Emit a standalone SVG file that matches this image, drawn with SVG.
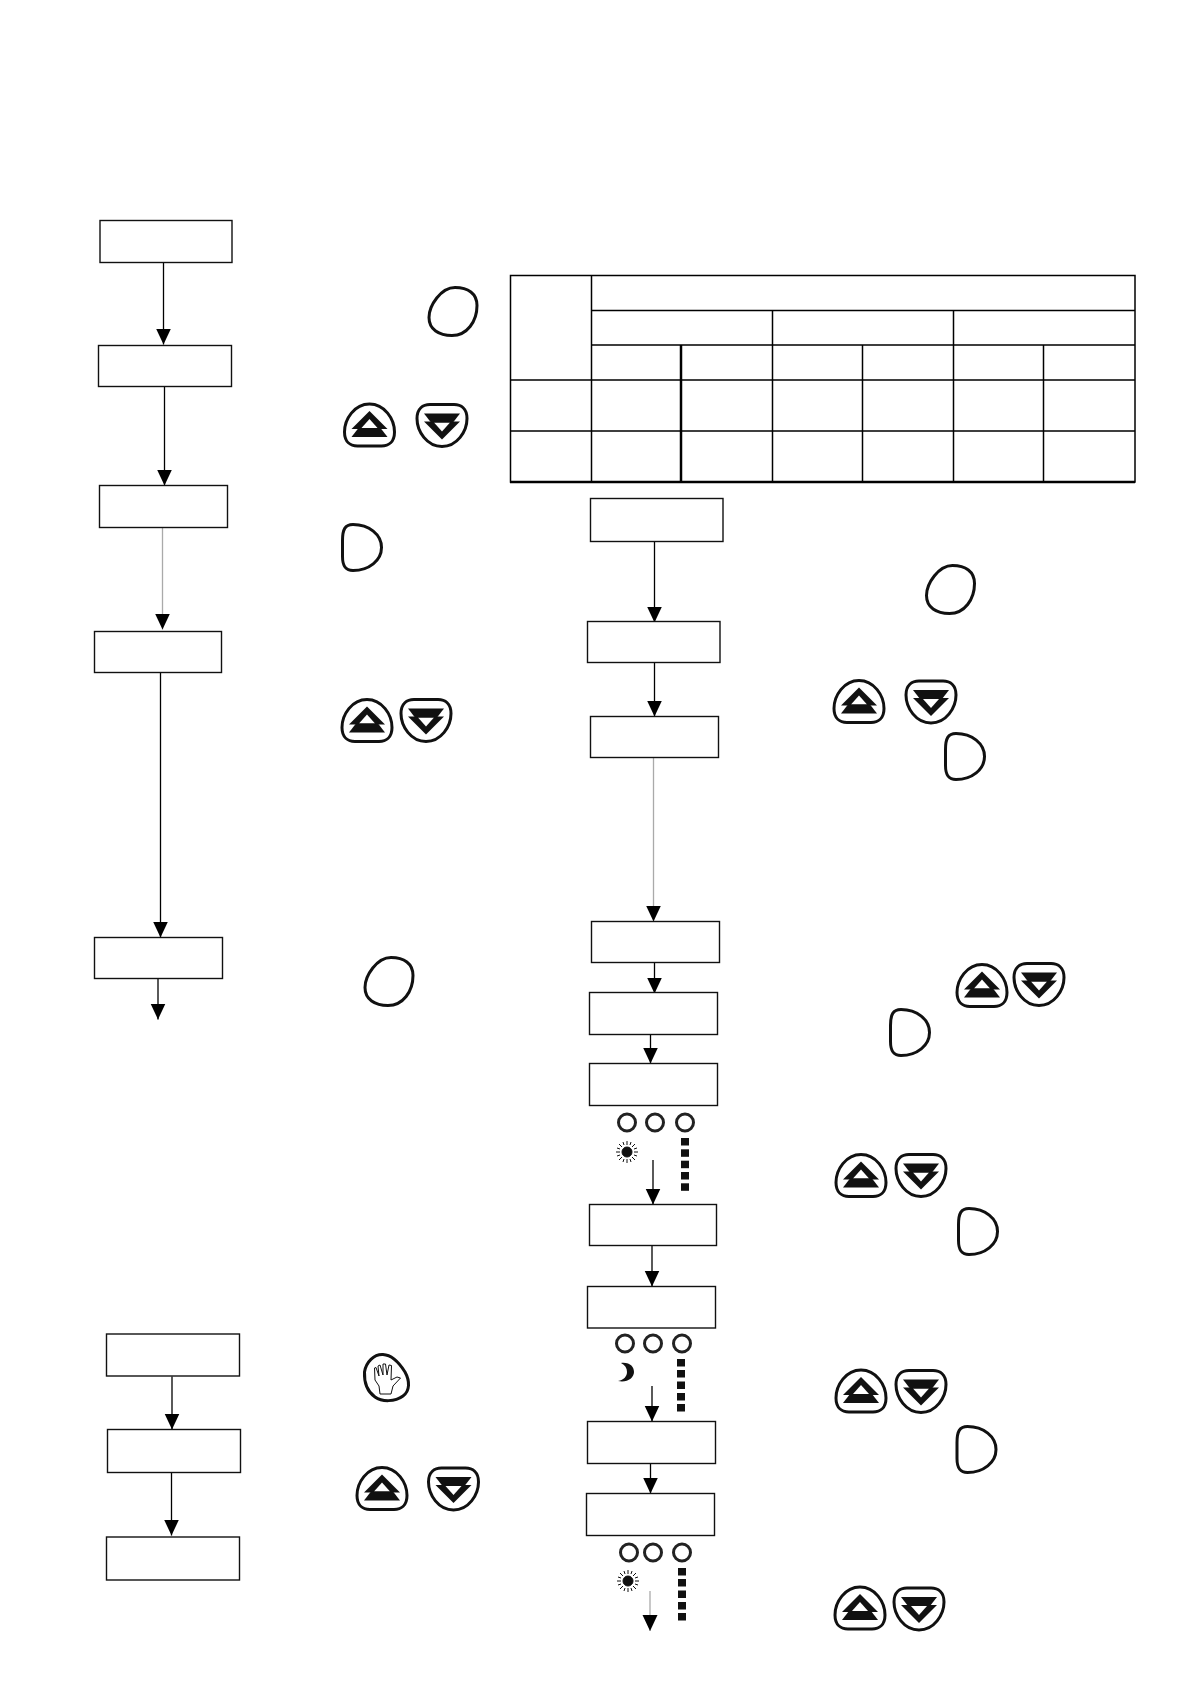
<svg xmlns="http://www.w3.org/2000/svg" width="1190" height="1684" viewBox="0 0 1190 1684">
<style>
.box{fill:#fff;stroke:#111;stroke-width:1.4}
.c{stroke:#000;stroke-width:1.3;fill:none;marker-end:url(#ah)}
.g{stroke:#aaa}
.t{stroke:#000;stroke-width:1.5;fill:none}
.k{fill:#fff;stroke:#111;stroke-width:3}
.led{fill:#fff;stroke:#222;stroke-width:3}
.sq{fill:#111}
</style>
<defs>
<marker id="ah" markerUnits="userSpaceOnUse" markerWidth="17" markerHeight="17" refX="16" refY="8.500" orient="auto"><path d="M0,1L16,8.500L0,16Z" fill="#000"/></marker>
<path id="round" class="k" d="M2,-24C15,-24 24,-18 24,-6C24,10 14,24 -1,24C-14,24 -24,18 -24,6C-24,-6 -12,-24 2,-24Z"/>
<path id="d" class="k" d="M-9,-23C7,-23 19.500,-13 19.500,0C19.500,13 7,23 -9,23C-17,23 -19.500,18 -19.500,9L-19.500,-7C-19.500,-18 -17,-23 -9,-23Z"/>
<g id="up">
<path class="k" d="M0,-21C15,-21 25,-6 25,7C25,17 19,21 12,21L-12,21C-19,21 -25,17 -25,7C-25,-6 -15,-21 0,-21Z"/>
<path fill="#111" d="M0,-14L18,4L-18,4Z"/>
<path fill="#fff" d="M0,-6L8,3L-8,3Z"/>
<path fill="#111" d="M-11,3L11,3L18,12L-18,12Z"/>
</g>
<g id="sun" stroke="#111" stroke-width="1">
<circle r="5" fill="#111"/>
<path d="M0,-11V-7M0,11V7M-11,0H-7M11,0H7M-8,-8L-5,-5M8,8L5,5M-8,8L-5,5M8,-8L5,-5M-4,-10L-3,-7M4,10L3,7M4,-10L3,-7M-4,10L-3,7M-10,-4L-7,-3M10,4L7,3M10,-4L7,-3M-10,4L-7,3"/>
</g>
</defs>

<g id="table">
<rect class="t" x="510.500" y="275.500" width="624.500" height="206.500"/>
<path class="t" d="M591.500,275.500V482M591.500,310.500H1135M591.500,345H1135M510.500,380H1135M510.500,431H1135M772.500,310.500V482M953.500,310.500V482M862.500,345V482M1043.500,345V482"/>
<path d="M681,345V482" stroke="#000" stroke-width="2.500"/>
<path d="M510,482H1135" stroke="#000" stroke-width="2.500"/>
</g>

<g id="connectors">
<path class="c" d="M163.500,262.500V344.500"/>
<path class="c" d="M164.500,386.500V485.500"/>
<path class="c g" d="M162.500,527.500V629.500"/>
<path class="c" d="M160.500,672.500V937.500"/>
<path class="c" d="M158,978.500V1019.500"/>
<path class="c" d="M654.500,541.500V622.500"/>
<path class="c" d="M654.500,662.500V716.500"/>
<path class="c g" d="M653.500,757.500V921.500"/>
<path class="c" d="M654.500,962.500V993.500"/>
<path class="c" d="M650.500,1034.500V1063.500"/>
<path class="c" d="M653,1160V1204.500"/>
<path class="c" d="M652,1245.500V1286.500"/>
<path class="c" d="M652,1386V1421.500"/>
<path class="c" d="M650.500,1463.500V1493.500"/>
<path class="c g" d="M650,1591V1631"/>
<path class="c" d="M172,1376.500V1429.500"/>
<path class="c" d="M171.500,1472.500V1535.500"/>
</g>

<g id="n1"><rect class="box" x="100" y="220.500" width="132" height="42"/></g>
<g id="n2"><rect class="box" x="98.500" y="345.500" width="133" height="41"/></g>
<g id="n3"><rect class="box" x="99.500" y="485.500" width="128" height="42"/></g>
<g id="n4"><rect class="box" x="94.500" y="631.500" width="127" height="41"/></g>
<g id="n5"><rect class="box" x="94.500" y="937.500" width="128" height="41"/></g>
<g id="n6"><rect class="box" x="106.500" y="1334" width="133" height="42"/></g>
<g id="n7"><rect class="box" x="107.500" y="1429.500" width="133" height="43"/></g>
<g id="n8"><rect class="box" x="106.500" y="1537" width="133" height="43"/></g>
<g id="m1"><rect class="box" x="590.500" y="498.500" width="132.500" height="43"/></g>
<g id="m2"><rect class="box" x="587.500" y="621.500" width="132.500" height="41"/></g>
<g id="m3"><rect class="box" x="590.500" y="716.500" width="128" height="41"/></g>
<g id="m4"><rect class="box" x="591.500" y="921.500" width="128" height="41"/></g>
<g id="m5"><rect class="box" x="589.500" y="992.500" width="128" height="42"/></g>
<g id="m6"><rect class="box" x="589.500" y="1063.500" width="128" height="42"/></g>
<g id="m7"><rect class="box" x="589.500" y="1204.500" width="127" height="41"/></g>
<g id="m8"><rect class="box" x="587.500" y="1286.500" width="128" height="41.500"/></g>
<g id="m9"><rect class="box" x="587.500" y="1421.500" width="128" height="42"/></g>
<g id="m10"><rect class="box" x="586.500" y="1493.500" width="128" height="42"/></g>

<g id="leds1">
<circle class="led" cx="627" cy="1122.500" r="8.500"/><circle class="led" cx="655" cy="1122.500" r="8.500"/><circle class="led" cx="685" cy="1122.500" r="8.500"/>
<use href="#sun" x="627" y="1152"/>
<rect class="sq" x="681" y="1138" width="8" height="7.500"/><rect class="sq" x="681" y="1149.300" width="8" height="7.500"/><rect class="sq" x="681" y="1160.700" width="8" height="7.500"/><rect class="sq" x="681" y="1172" width="8" height="7.500"/><rect class="sq" x="681" y="1183.300" width="8" height="7.500"/>
</g>
<g id="leds2">
<circle class="led" cx="625" cy="1343.500" r="8.500"/><circle class="led" cx="653" cy="1343.500" r="8.500"/><circle class="led" cx="682" cy="1343.500" r="8.500"/>
<path fill="#111" d="M621,1363C630,1362 634,1367 634,1372C634,1378 627,1383 618,1381C624,1380 627,1376 627,1372C627,1368 625,1365 621,1363Z"/>
<rect class="sq" x="677" y="1359" width="8" height="7.500"/><rect class="sq" x="677" y="1370" width="8" height="7.500"/><rect class="sq" x="677" y="1381.500" width="8" height="7.500"/><rect class="sq" x="677" y="1393" width="8" height="7.500"/><rect class="sq" x="677" y="1404" width="8" height="7.500"/>
</g>
<g id="leds3">
<circle class="led" cx="629" cy="1552.500" r="8.500"/><circle class="led" cx="653" cy="1552.500" r="8.500"/><circle class="led" cx="682" cy="1552.500" r="8.500"/>
<use href="#sun" x="628" y="1581"/>
<rect class="sq" x="678" y="1568" width="8" height="7.500"/><rect class="sq" x="678" y="1579" width="8" height="7.500"/><rect class="sq" x="678" y="1590.500" width="8" height="7.500"/><rect class="sq" x="678" y="1602" width="8" height="7.500"/><rect class="sq" x="678" y="1613" width="8" height="7.500"/>
</g>

<g id="b-round1"><use href="#round" x="453" y="311.500"/></g>
<g id="b-round2"><use href="#round" x="950.500" y="589.500"/></g>
<g id="b-round3"><use href="#round" x="389" y="981.500"/></g>
<g id="b-d1"><use href="#d" x="362" y="547.500"/></g>
<g id="b-d2"><use href="#d" x="965" y="756.500"/></g>
<g id="b-d3"><use href="#d" x="910" y="1032.500"/></g>
<g id="b-d4"><use href="#d" x="978" y="1231.500"/></g>
<g id="b-d5"><use href="#d" x="976.500" y="1449.500"/></g>

<g id="b-ud1"><use href="#up" transform="translate(369.500,425)"/><use href="#up" transform="translate(442,425.500) scale(1,-1)"/></g>
<g id="b-ud2"><use href="#up" transform="translate(367,720.500)"/><use href="#up" transform="translate(426,720.500) scale(1,-1)"/></g>
<g id="b-ud3"><use href="#up" transform="translate(859,701.500)"/><use href="#up" transform="translate(931,702) scale(1,-1)"/></g>
<g id="b-ud4"><use href="#up" transform="translate(982,985.500)"/><use href="#up" transform="translate(1039,984.500) scale(1,-1)"/></g>
<g id="b-ud5"><use href="#up" transform="translate(861,1175.500)"/><use href="#up" transform="translate(921,1175.500) scale(1,-1)"/></g>
<g id="b-ud6"><use href="#up" transform="translate(861,1391)"/><use href="#up" transform="translate(921,1391.500) scale(1,-1)"/></g>
<g id="b-ud7"><use href="#up" transform="translate(860,1608)"/><use href="#up" transform="translate(919,1609) scale(1,-1)"/></g>
<g id="b-ud8"><use href="#up" transform="translate(382,1488.500)"/><use href="#up" transform="translate(453.500,1489) scale(1,-1)"/></g>

<g id="b-hand" transform="translate(1,0)">
<path class="k" d="M363.500,1372C365,1362 373,1354 382,1354.500C392,1355 399,1364 404,1372C409,1381 409,1391 402,1396C394,1402 381,1402 374,1397C367,1392 363,1383 363.500,1372Z"/>
<path fill="#fff" stroke="#111" stroke-width="1" d="M379,1394L378,1386L374,1380L373.500,1368L375,1367.500L378,1376L377,1366L379,1365L382,1375L382,1364L384.500,1364L386,1375L388,1365L390.500,1365.500L390,1380L396,1377L399.500,1378L392,1386L390,1394Z"/>
</g>
</svg>
